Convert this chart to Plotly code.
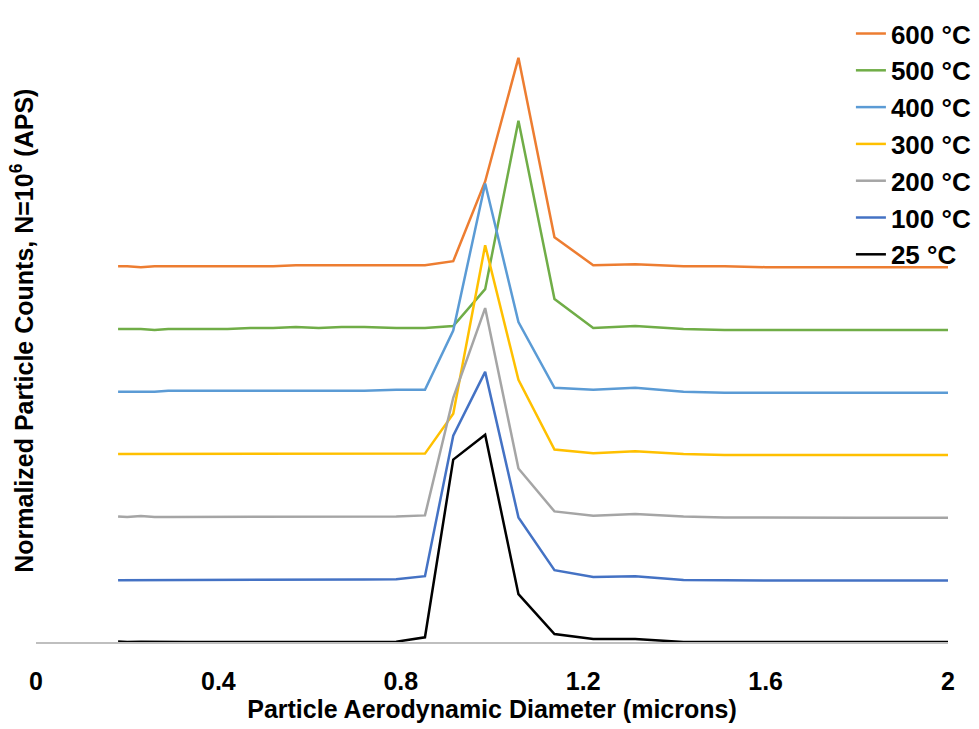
import plotly.graph_objects as go

# Particle aerodynamic diameter (microns)
x_um = [0.18, 0.20, 0.23, 0.26, 0.29, 0.33, 0.37, 0.42, 0.47, 0.52, 0.57, 0.62, 0.67, 0.72, 0.79,
        0.853, 0.915, 0.985, 1.058, 1.137, 1.222, 1.314, 1.42, 1.51, 1.60, 1.70, 1.80, 1.90, 2.00]

# Normalized particle counts (stacked display values, arbitrary units)
y_600 = [3.77, 3.77, 3.76, 3.77, 3.77, 3.77, 3.77, 3.77, 3.77, 3.77, 3.78, 3.78, 3.78, 3.78, 3.78,
         3.78, 3.82, 4.62, 5.86, 4.06, 3.78, 3.79, 3.77, 3.77, 3.76, 3.76, 3.76, 3.76, 3.76]
y_500 = [3.14, 3.14, 3.14, 3.13, 3.14, 3.14, 3.14, 3.14, 3.15, 3.15, 3.16, 3.15, 3.16, 3.16, 3.15,
         3.15, 3.17, 3.54, 5.23, 3.44, 3.15, 3.17, 3.14, 3.13, 3.13, 3.13, 3.13, 3.13, 3.13]
y_400 = [2.51, 2.51, 2.51, 2.51, 2.52, 2.52, 2.52, 2.52, 2.52, 2.52, 2.52, 2.52, 2.52, 2.52, 2.53,
         2.53, 3.125, 4.60, 3.21, 2.55, 2.53, 2.55, 2.51, 2.50, 2.50, 2.50, 2.50, 2.50, 2.50]
y_300 = [1.887, 1.887, 1.887, 1.887, 1.887, 1.89, 1.89, 1.89, 1.89, 1.89, 1.89, 1.89, 1.89, 1.89, 1.89,
         1.89, 2.29, 3.98, 2.63, 1.93, 1.893, 1.913, 1.887, 1.877, 1.877, 1.877, 1.877, 1.877, 1.877]
y_200 = [1.26, 1.253, 1.263, 1.253, 1.253, 1.253, 1.253, 1.257, 1.257, 1.257, 1.257, 1.257, 1.257, 1.257, 1.26,
         1.27, 2.45, 3.35, 1.74, 1.31, 1.267, 1.283, 1.26, 1.25, 1.247, 1.247, 1.247, 1.247, 1.247]
y_100 = [0.62, 0.62, 0.62, 0.62, 0.62, 0.62, 0.62, 0.62, 0.62, 0.623, 0.627, 0.627, 0.627, 0.627, 0.63,
         0.66, 2.07, 2.71, 1.25, 0.72, 0.653, 0.66, 0.623, 0.617, 0.617, 0.617, 0.617, 0.617, 0.617]
y_25 = [0.005, 0.0, 0.003, 0.0, 0.003, 0.0, 0.0, 0.003, 0.0, 0.0, 0.003, 0.0, 0.0, 0.0, 0.003,
        0.047, 1.83, 2.08, 0.48, 0.08, 0.03, 0.03, 0.0, 0.0, 0.0, 0.0, 0.0, 0.0, 0.0]

series_names = ["600 °C", "500 °C", "400 °C", "300 °C", "200 °C", "100 °C", "25 °C"]
series_values = [y_600, y_500, y_400, y_300, y_200, y_100, y_25]
series_colors = ["#ED7D31", "#70AD47", "#5B9BD5", "#FFC000", "#A5A5A5", "#4472C4", "#000000"]

x_ticks = [0, 0.4, 0.8, 1.2, 1.6, 2]
x_tick_text = ["0", "0.4", "0.8", "1.2", "1.6", "2"]

FONT = "Liberation Sans, Arial, sans-serif"

fig = go.Figure()
for name, vals, col in zip(series_names, series_values, series_colors):
    fig.add_trace(go.Scatter(x=x_um, y=vals, mode="lines", name="<b>" + name + "</b>",
                             line=dict(color=col, width=2.5)))

# page body has an 8px default margin, so the figure is sized to end at the window edge
fig.update_layout(
    width=971, height=721,
    paper_bgcolor="white", plot_bgcolor="white",
    margin=dict(l=28, r=29, t=2, b=87),
    font=dict(family=FONT, color="black"),
    showlegend=True,
    legend=dict(x=1.0317, y=1.003, xanchor="right", yanchor="top",
                font=dict(family=FONT, size=26, color="black"),
                bgcolor="rgba(0,0,0,0)", borderwidth=0, itemwidth=30),
    xaxis=dict(range=[0, 2], tickvals=x_ticks, ticktext=x_tick_text,
               showgrid=False, zeroline=False, showline=True,
               linecolor="#BFBFBF", linewidth=2, ticks="", ticklabelstandoff=16,
               tickfont=dict(family=FONT, size=25, color="black", weight="bold"),
               title=dict(text="<b>Particle Aerodynamic Diameter (microns)</b>",
                          font=dict(family=FONT, size=25, color="black"), standoff=2)),
    yaxis=dict(range=[0, 6.32], showgrid=False, zeroline=False, showline=False,
               showticklabels=False, ticks=""),
)

fig.add_annotation(
    text="<b>Normalized Particle Counts, N=10<sup>6</sup> (APS)</b>",
    xref="paper", yref="paper", x=0, y=0.494, xanchor="center", yanchor="middle",
    xshift=-14, textangle=-90, showarrow=False,
    font=dict(family=FONT, size=25, color="black"),
)

fig.write_html("out.html")
